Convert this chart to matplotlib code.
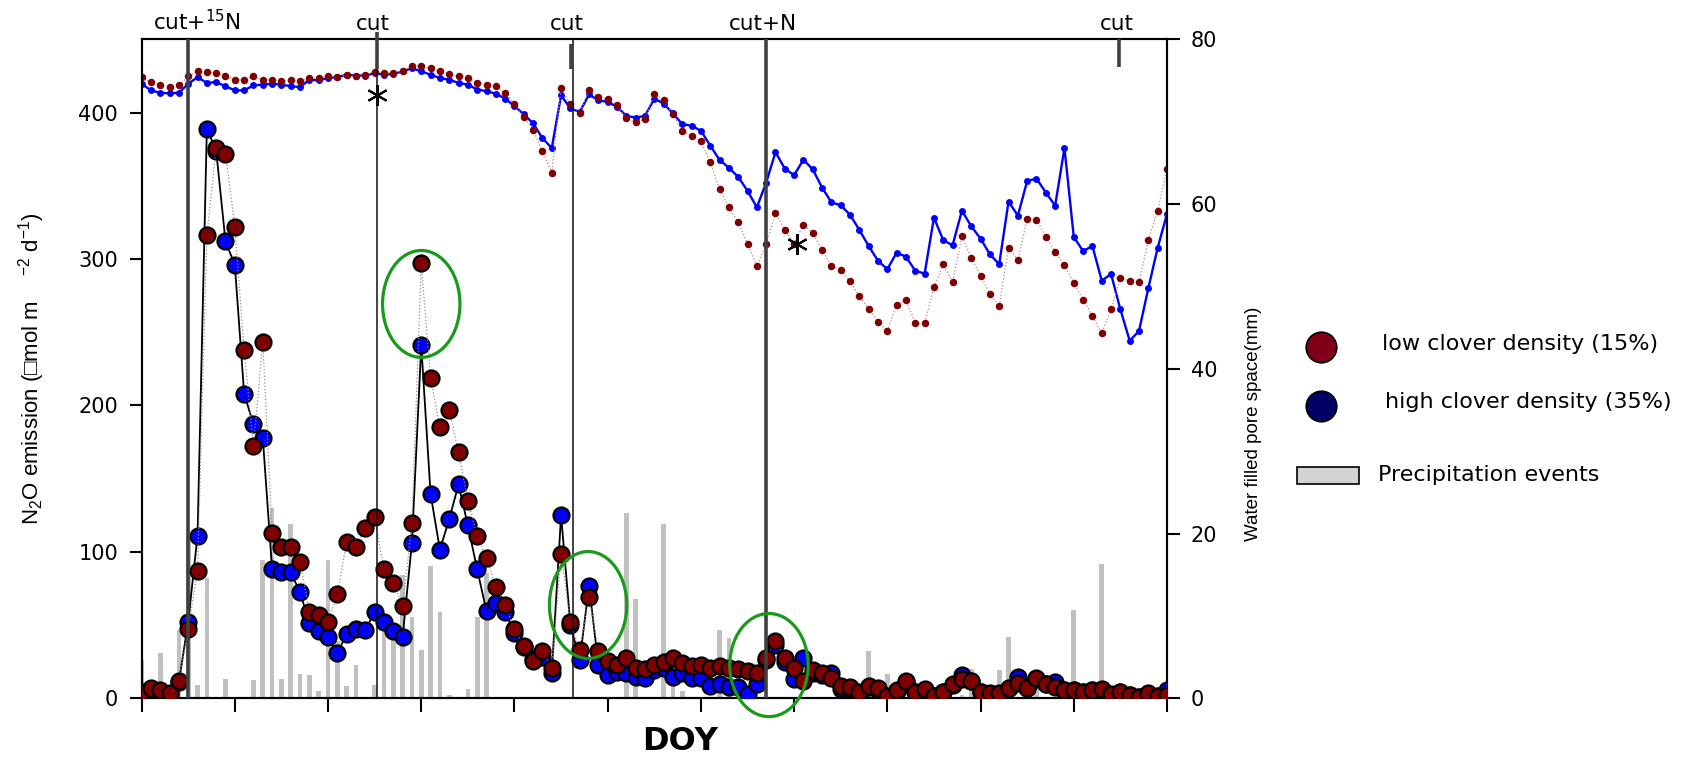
import numpy as np
import matplotlib
matplotlib.use("Agg")
import matplotlib.pyplot as plt
from matplotlib.patches import Ellipse, Rectangle
from matplotlib.transforms import blended_transform_factory

plt.rcParams['font.family'] = ['DejaVu Sans']
plt.rcParams['mathtext.default'] = 'regular'

# daily sampling, day index from the start of the campaign
day = np.arange(111)

# N2O emission (umol m-2 d-1)
n2o_low = [4.5, 7.3, 5.7, 3.4, 12.0, 47.3, 87.2, 316.5, 376, 372,
           322, 238, 172, 243, 113, 103.5, 103.5, 93, 59, 57,
           52, 71, 107, 103.5, 116, 124, 88, 79, 63, 119.5,
           297, 219, 185, 197, 168, 135, 111, 96, 76, 64,
           47, 36, 25.5, 32, 21, 98.5, 52, 33, 69.5, 32,
           25.5, 22.7, 27.3, 20.4, 20, 22.7, 25, 27.3, 24, 22.3,
           22.7, 20.4, 22.3, 20.9, 20, 18.6, 17, 27.7, 39, 27.7,
           20.4, 11.8, 19.3, 17.5, 14.1, 8.6, 7.9, 4.5, 8.6, 6.8,
           1.8, 5.7, 11.8, 4.5, 6.3, 1.8, 4.5, 9.5, 13.2, 11.8,
           4.1, 3.4, 3.4, 7.2, 10.2, 7.2, 13.6, 9.5, 7.9, 5.7,
           5.7, 4.5, 5.7, 6.3, 2.7, 4.5, 2.3, 1.1, 3.4, 1.8,
           2.3]
n2o_high = [3.5, 6.5, 5, 3, 11, 52.3, 111, 389, 374, 312,
            296, 208, 187, 178, 88, 86.5, 86, 72.4, 51.2, 46,
            42, 31, 43.7, 47.3, 46.6, 59, 52, 46, 42, 106.3,
            241, 139.5, 101.5, 122.4, 146, 118, 88, 59.4, 65, 59,
            44.4, 35, 26.5, 28.4, 17.5, 125, 50, 26, 76.8, 23,
            16, 18.2, 17, 14.7, 13.6, 19.3, 20.4, 14.7, 17, 14.1,
            13.6, 8.6, 9.5, 7.9, 7.9, 2.7, 9.5, 26, 36.4, 24.5,
            13.2, 27.3, 17, 16, 17, 6.3, 7, 1.8, 8, 6,
            0.5, 5, 11, 4, 6, 1.5, 4, 9, 16, 12,
            4, 3, 3, 7, 14.7, 7, 13, 10, 11, 5.5,
            5.5, 4, 5.5, 6, 2.5, 4, 2, 1, 3, 1.5,
            5.7]

# water filled pore space (mm)
wfps_low = [75.4, 74.8, 74.5, 74.2, 74.4, 75.5, 76.1, 76.0, 75.95, 75.6,
            75.1, 75.1, 75.5, 75.1, 75.1, 74.9, 75.1, 74.9, 75.3, 75.3,
            75.5, 75.4, 75.7, 75.5, 75.7, 76.0, 75.9, 75.9, 76.2, 76.7,
            76.7, 76.5, 76.1, 75.8, 75.5, 75.3, 74.7, 74.5, 74.3, 73.5,
            72.2, 70.6, 69.0, 66.4, 63.8, 74.1, 72.1, 71.1, 73.8, 73.0,
            72.7, 72.0, 70.4, 70.0, 70.3, 73.4, 72.6, 70.9, 68.9, 68.3,
            67.6, 65.1, 61.8, 59.6, 57.8, 55.2, 52.5, 55.1, 58.9, 56.9,
            55.2, 57.5, 56.5, 54.4, 52.5, 52.0, 50.6, 48.8, 47.3, 45.7,
            44.6, 47.8, 48.3, 45.6, 45.5, 49.9, 52.7, 50.5, 56.1, 53.5,
            51.3, 49.1, 47.6, 54.7, 53.2, 58.2, 58.1, 56.0, 54.2, 52.6,
            50.4, 48.4, 46.4, 44.3, 47.2, 51.0, 50.7, 50.5, 55.6, 59.2,
            64.3]
wfps_high = [74.6, 73.8, 73.5, 73.45, 73.5, 74.6, 75.4, 74.7, 74.8, 74.3,
             73.8, 73.8, 74.4, 74.5, 74.6, 74.5, 74.3, 74.2, 75.1, 75.0,
             75.3, 75.4, 75.7, 75.6, 75.6, 75.9, 75.7, 75.8, 76.1, 76.5,
             76.1, 75.7, 75.3, 75.1, 74.7, 74.5, 73.9, 73.7, 73.4, 72.8,
             71.9, 70.9, 69.8, 68.0, 66.8, 73.2, 71.6, 71.2, 73.3, 72.6,
             72.4, 71.8, 70.7, 70.5, 70.7, 72.8, 72.2, 71.0, 69.7, 69.5,
             68.9, 67.1, 65.35, 64.4, 63.3, 61.6, 59.6, 62.6, 66.3, 64.3,
             63.5, 65.4, 64.2, 62.0, 60.2, 59.85, 58.7, 56.85, 54.9, 53.1,
             52.1, 54.1, 53.6, 51.9, 51.55, 58.35, 55.6, 55.0, 59.2, 57.3,
             55.8, 53.9, 52.7, 60.3, 58.6, 62.8, 63.1, 61.4, 59.8, 66.8,
             56.0, 54.3, 54.9, 50.7, 51.5, 47.2, 43.4, 44.6, 49.8, 54.7,
             58.8]

# precipitation events (mm)
rain_day = [0, 2, 4, 5, 6, 7, 9, 12, 13, 14, 15, 16, 17, 18, 19, 20, 21, 22,
            23, 25, 26, 27, 28, 29, 30, 31, 32, 33, 35, 36, 37, 52, 53, 55,
            56, 57, 58, 62, 63, 78, 80, 88, 89, 92, 93, 96, 100, 103]
rain_mm = [4.65, 5.5, 8.3, 19.6, 1.6, 14.6, 2.4, 2.2, 16.8, 23.1, 2.4, 21.1,
           3.0, 2.8, 0.9, 16.8, 7.0, 1.5, 4.0, 1.6, 9.5, 8.7, 15.0, 9.9, 5.9,
           16.1, 10.5, 0.4, 1.1, 9.9, 15.2, 22.5, 12.1, 0.2, 21.2, 1.6, 0.9,
           8.3, 7.3, 5.7, 3.0, 0.4, 3.6, 3.4, 7.5, 1.4, 10.7, 16.3]

# management events
cut_days = [5.0, 25.2, 46.3, 67.0, 104.9]
cut_labels = ['cut+$^{15}$N', 'cut', 'cut', 'cut+N', 'cut']
cut_label_days = [5.95, 24.8, 45.6, 66.7, 104.6]
star_days = [25.2, 70.3]
star_wfps = [73.2, 55.2]

W, H = 1690, 757
fig = plt.figure(figsize=(W / 100, H / 100), dpi=100)
ax = fig.add_axes([141.6 / W, 1 - 698.3 / H, (1167 - 141.6) / W, (698.3 - 39.3) / H])
ax2 = ax.twinx()
ax.set_zorder(2)
ax2.set_zorder(1)
ax.patch.set_visible(False)

RED = '#800000'
BLUE = '#0000ff'

# right axis: precipitation and soil water
ax2.bar(rain_day, rain_mm, width=0.5, color='#c0c0c0', zorder=1)
ax2.plot(day, wfps_high, '-', color=BLUE, lw=1.7, marker='o', ms=5, mec='none', zorder=3)
ax2.plot(day, wfps_low, ':', color='#c88080', lw=0.9, zorder=4)
ax2.plot(day, wfps_low, 'o', ms=5.4, color=RED, mec='none', ls='none', zorder=5)
ax2.plot(star_days, star_wfps, ls='none', marker=(6, 2, 0), ms=15, mec='black', mew=1.5, zorder=6)

# left axis: N2O fluxes
ax.plot(day, n2o_high, '-', color='black', lw=1.3, marker='o', ms=11.5,
        mfc=BLUE, mec='black', mew=1.6, zorder=3)
ax.plot(day, n2o_low, ':', color='#909090', lw=0.9, zorder=4)
ax.plot(day, n2o_low, 'o', ms=11.5, mfc=RED, mec='black', mew=1.6, ls='none', zorder=5)

# cutting / fertilisation markers
for x, style in zip(cut_days, ['thick', 'thin', 'thin', 'thick', None]):
    if style == 'thick':
        ax.axvline(x, color='#404040', lw=2.6, zorder=6)
    elif style == 'thin':
        ax.axvline(x, color='#111111', lw=1.1, zorder=6)
for x, y0, y1 in [(25.2, 455, 430), (46.1, 447, 430), (104.9, 450, 431)]:
    ax.plot([x, x], [y0, y1], color='#404040', lw=2.6, solid_capstyle='butt',
            clip_on=False, zorder=6)

tr = blended_transform_factory(ax.transData, fig.transFigure)
for x, lab in zip(cut_label_days, cut_labels):
    ax.text(x, 1 - 30 / H, lab, transform=tr, ha='center', va='baseline', fontsize=15.5)

# highlighted peaks
for cx, cy, w, h in [(30.0, 269.3, 8.3, 73), (47.9, 63.7, 8.3, 73), (67.3, 22.7, 8.4, 70.4)]:
    ax.add_patch(Ellipse((cx, cy), w, h, fill=False, ec='#1a9a1a', lw=2.3,
                         clip_on=False, zorder=7))

ax.set_xlim(0, 110)
ax.set_xticks(np.arange(0, 111, 10))
ax.set_xticklabels([])
ax.set_ylim(0, 450)
ax.set_yticks([0, 100, 200, 300, 400])
ax2.set_ylim(0, 80)
ax2.set_yticks([0, 20, 40, 60, 80])
ax.tick_params(axis='y', direction='out', length=9, width=1.5, labelsize=15, pad=8)
ax.tick_params(axis='x', direction='out', length=10, width=1.5)
ax2.tick_params(axis='y', direction='out', length=9, width=1.5, labelsize=15, pad=8)
for a in (ax, ax2):
    for s in a.spines.values():
        s.set_linewidth(1.5)

fig.text(680.5 / W, 1 - 741 / H, 'DOY', ha='center', va='center',
         fontsize=23, fontweight='bold')
fig.text(32 / W, 1 - 369 / H, 'N$_2$O emission (\u25a1mol m    $^{-2}$ d$^{-1}$)',
         rotation=90, ha='center', va='center', fontsize=16,
         family=['Liberation Sans', 'DejaVu Sans'])
fig.text(1253.5 / W, 1 - 424 / H, 'Water filled pore space(mm)', rotation=90,
         ha='center', va='center', fontsize=13.5,
         family=['Liberation Sans Narrow', 'Liberation Sans', 'DejaVu Sans'])

# legend
lax = fig.add_axes([0, 0, 1, 1])
lax.set_xlim(0, W)
lax.set_ylim(H, 0)
lax.axis('off')
lax.plot(1321, 347, 'o', ms=22, mfc='#80001a', mec='black', mew=1.2)
lax.plot(1321, 406, 'o', ms=22, mfc='#000066', mec='black', mew=1.2)
lax.add_patch(Rectangle((1297, 466.5), 62, 17, fc='#d3d3d3', ec='black', lw=1.2))
lax.text(1382, 344, 'low clover density (15%)', va='center', fontsize=16)
lax.text(1385, 402, 'high clover density (35%)', va='center', fontsize=16)
lax.text(1378, 475, 'Precipitation events', va='center', fontsize=16)

fig.savefig('out.png', dpi=100)
